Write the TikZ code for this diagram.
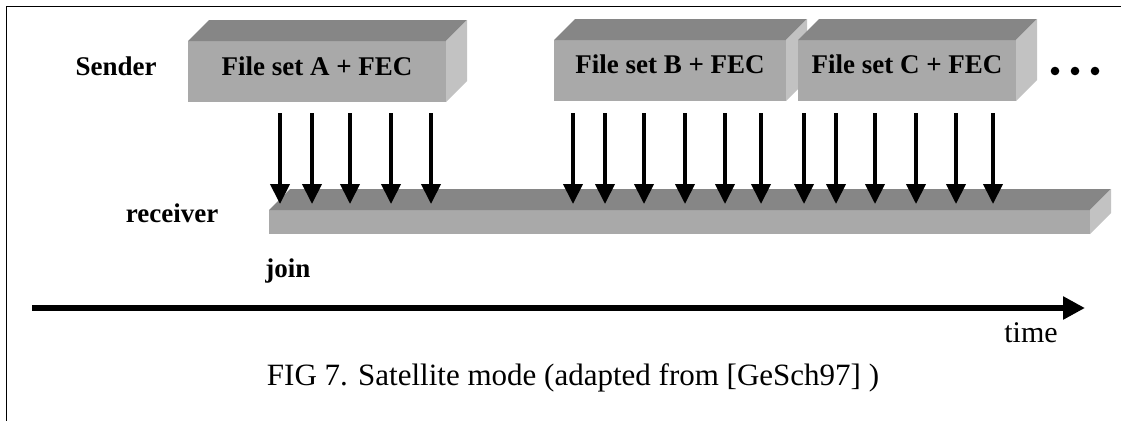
\documentclass[tikz,border=0pt]{standalone}
\usepackage{fontspec}
\setmainfont{Liberation Serif}
\usetikzlibrary{arrows.meta,calc}

\definecolor{faceFront}{HTML}{A9A9A9}
\definecolor{faceTop}{HTML}{868686}
\definecolor{faceSide}{HTML}{C2C2C2}

\tikzset{
  front/.style={fill=faceFront, draw=none, inner sep=0pt, outer sep=0pt,
                anchor=north west},
  topface/.style={fill=faceTop, draw=none},
  sideface/.style={fill=faceSide, draw=none},
  label/.style={font=\fontsize{27}{30}\selectfont\bfseries, anchor=base, inner sep=0pt},
  plain/.style={font=\fontsize{31}{34}\selectfont, anchor=base, inner sep=0pt},
  pkt/.style={line width=4pt, -{Triangle[width=19pt,length=20pt]}},
  axis/.style={line width=6pt, -{Triangle[width=22pt,length=22pt]}},
  frame/.style={line width=1.6pt, black}
}

% extruded block: front face as a node, then the top and right faces
\newcommand{\slab}[6]{% name, x, y, width, height, depth
  \node[front, minimum width=#4pt, minimum height=#5pt] (#1) at (#2,#3) {};
  \fill[topface] (#1.north west) -- ++(#6,-#6) -- ($(#1.north east)+(#6,-#6)$)
                 -- (#1.north east) -- cycle;
  \fill[sideface] (#1.north east) -- ++(#6,-#6) -- ($(#1.south east)+(#6,-#6)$)
                  -- (#1.south east) -- cycle;
}

\begin{document}
\begin{tikzpicture}[x=1pt,y=-1pt]
  \useasboundingbox (0,0) rectangle (1121,421);

  % outline of the figure
  \coordinate (fTL) at (6.5,6.5);
  \coordinate (fTR) at (1121,6.5);
  \coordinate (fBL) at (6.5,421);
  \draw[frame] (fTR) -- (fTL) -- (fBL);

  % sender blocks
  \slab{blkA}{188}{41}{258}{61}{21}
  \slab{blkB}{554}{40}{232}{61}{21}
  \slab{blkC}{798}{40}{218}{61}{21}
  \node[label] (txtA) at ($(blkA.center)+(0,3.5)$) {File set A + FEC};
  \node[label] (txtB) at ($(blkB.center)+(0,3)$) {File set B + FEC};
  \node[label] (txtC) at ($(blkC.center)+(0,3)$) {File set C + FEC};

  % continuation dots
  \foreach \i/\x in {1/1055,2/1075,3/1095}
    \fill (\x,71) circle (4.3) coordinate (dot\i);

  % receiver bar
  \slab{bar}{269}{210}{821}{24}{21}

  % packets sent to the receiver
  \foreach \x [count=\i] in {280,312,350,391,431,573,605,644,685,725,761,804,836,875,916,956,993}{
    \coordinate (s\i) at (\x,113);
    \coordinate (r\i) at (\x,204);
    \draw[pkt] (s\i) -- (r\i);
  }

  % row labels
  \node[label] (sender) at (116,75) {Sender};
  \node[label] (receiver) at (172,222) {receiver};
  \node[label] (join) at (288,277) {join};

  % time axis
  \coordinate (t0) at (32,308);
  \coordinate (t1) at (1085,308);
  \draw[axis] (t0) -- (t1);
  \node[plain, font=\fontsize{30}{33}\selectfont] (time) at (1031,342) {time};

  % caption
  \node[plain] (caption) at (573,385) {FIG 7. Satellite mode (adapted from [GeSch97] )};
\end{tikzpicture}
\end{document}
